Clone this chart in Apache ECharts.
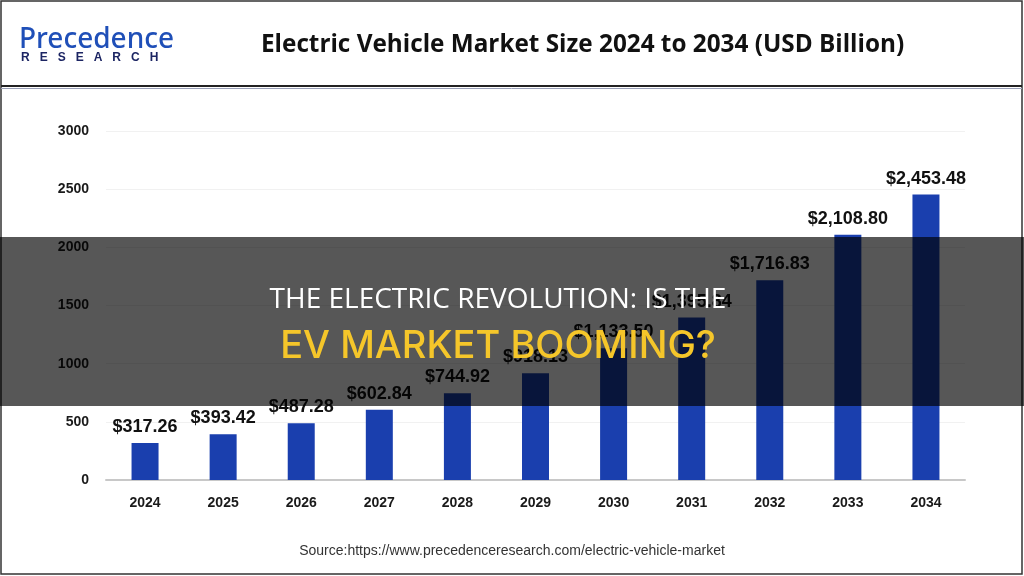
<!DOCTYPE html>
<html>
<head>
<meta charset="utf-8">
<script src="https://cdn.jsdelivr.net/npm/echarts@6/dist/echarts.min.js"></script>
<style>
html,body{margin:0;padding:0;background:#fff;}
#chart{width:1024px;height:576px;}
</style>
</head>
<body>
<div id="chart"></div>
<script>
const years = ['2024','2025','2026','2027','2028','2029','2030','2031','2032','2033','2034'];
const marketSize = [317.26, 393.42, 487.28, 602.84, 744.92, 918.13, 1133.50, 1395.84, 1716.83, 2108.80, 2453.48];
const yTicks = [0, 500, 1000, 1500, 2000, 2500, 3000];
const titleText = 'Electric Vehicle Market Size 2024 to 2034 (USD Billion)';
const sourceText = 'Source:https://www.precedenceresearch.com/electric-vehicle-market';
const overlayLine1 = 'THE ELECTRIC REVOLUTION: IS THE';
const overlayLine2 = 'EV MARKET BOOMING?';

const chart = echarts.init(document.getElementById('chart'));
const fmt = v => '$' + v.toLocaleString('en-US', {minimumFractionDigits: 2, maximumFractionDigits: 2});

chart.setOption({
  backgroundColor: '#ffffff',
  animation: false,
  grid: {left: 106, right: 59, top: 131, bottom: 96, containLabel: false},
  xAxis: {
    type: 'category',
    data: years,
    axisLine: {lineStyle: {color: '#c8c8c8', width: 2}},
    axisTick: {show: false},
    axisLabel: {color: '#1a1a1a', fontFamily: 'Liberation Sans', fontWeight: 'bold', fontSize: 14, margin: 16}
  },
  yAxis: {
    type: 'value',
    min: yTicks[0],
    max: yTicks[yTicks.length - 1],
    interval: 500,
    axisLine: {show: false},
    axisTick: {show: false},
    splitLine: {lineStyle: {color: '#f1f1f1', width: 1}},
    axisLabel: {color: '#1a1a1a', fontFamily: 'Liberation Sans', fontWeight: 'bold', fontSize: 14, margin: 17, formatter: v => String(v)}
  },
  series: [{
    type: 'bar',
    data: marketSize,
    barWidth: 27,
    itemStyle: {color: '#1a3fae'},
    label: {
      show: true,
      position: 'top',
      distance: 7,
      formatter: p => fmt(p.value),
      color: '#111',
      fontFamily: 'Liberation Sans',
      fontWeight: 'bold',
      fontSize: 18
    }
  }],
  graphic: [
    // frame
    {type: 'rect', shape: {x: 1, y: 1, width: 1021, height: 573}, style: {fill: 'none', stroke: '#333', lineWidth: 1.5}, z: 50},
    {type: 'line', shape: {x1: 1, y1: 86, x2: 1022, y2: 86}, style: {stroke: '#222', lineWidth: 2}, z: 50},
    {type: 'line', shape: {x1: 1, y1: 88.5, x2: 1022, y2: 88.5}, style: {stroke: '#9aa0b8', lineWidth: 1}, z: 50},
    // logo
    {type: 'text', left: 19, top: 26, style: {text: 'Precedence', fill: '#1f4fb8', font: '500 28px "Noto Sans"'}, z: 50},
    {type: 'text', left: 21, top: 52, style: {text: 'R   E   S   E   A   R   C   H', fill: '#1c2563', font: 'bold 12px "Liberation Sans"'}, z: 50},
    // title
    {type: 'text', left: 261, top: 33, style: {text: titleText, fill: '#111', font: 'bold 24.3px "Open Sans"'}, z: 50},
    // source
    {type: 'text', left: 'center', top: 544, style: {text: sourceText, fill: '#333', font: '14px "Liberation Sans"'}, z: 50},
    // overlay band
    {type: 'rect', shape: {x: 0, y: 237, width: 1024, height: 169}, style: {fill: 'rgba(0,0,0,0.66)'}, z: 100},
    {type: 'text', x: 498, y: 300, style: {text: overlayLine1, fill: '#ffffff', font: '28px "Open Sans"', textAlign: 'center', textVerticalAlign: 'middle'}, z: 101},
    {type: 'text', x: 498, y: 347, style: {text: overlayLine2, fill: '#f5c62a', font: '500 38px "Inter"', textAlign: 'center', textVerticalAlign: 'middle'}, z: 101}
  ]
});
</script>
</body>
</html>
